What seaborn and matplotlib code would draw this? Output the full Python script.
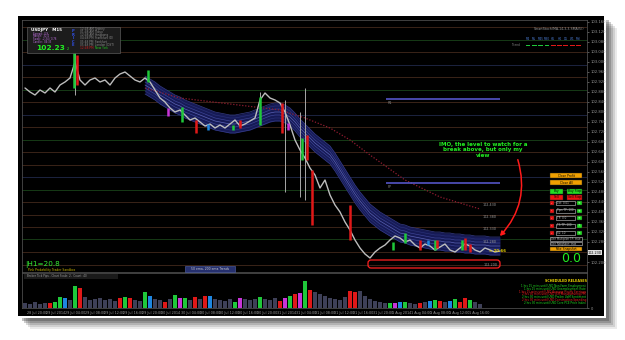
import numpy as np
import pandas as pd
import matplotlib
matplotlib.use("Agg")
import matplotlib.pyplot as plt
import seaborn as sns
from matplotlib.patches import Rectangle, FancyBboxPatch, FancyArrowPatch
from matplotlib.transforms import IdentityTransform
from matplotlib.ticker import FormatStrFormatter

# ---------------- data ----------------
symbol = "USDJPY"
timeframe = "M15"
current_price = 102.23

close_price = [
    102.896, 102.880, 102.868, 102.888, 102.876, 102.896, 102.880, 102.908, 102.920, 102.936,
    103.000, 102.928, 102.908, 102.928, 102.936, 102.920, 102.928, 102.908, 102.936, 102.952,
    102.960, 102.944, 102.928, 102.920, 102.936, 102.920, 102.888, 102.856, 102.840, 102.816,
    102.800, 102.808, 102.788, 102.768, 102.776, 102.760, 102.744, 102.752, 102.736, 102.748,
    102.736, 102.752, 102.768, 102.744, 102.752, 102.764, 102.776, 102.848, 102.876, 102.856,
    102.848, 102.836, 102.800, 102.748, 102.688, 102.648, 102.616, 102.576, 102.548, 102.496,
    102.528, 102.468, 102.428, 102.400, 102.360, 102.328, 102.288, 102.256, 102.232, 102.216,
    102.240, 102.256, 102.268, 102.288, 102.304, 102.296, 102.280, 102.288, 102.268, 102.256,
    102.272, 102.264, 102.248, 102.260, 102.272, 102.248, 102.240, 102.256, 102.272, 102.264,
    102.248, 102.240, 102.256, 102.248, 102.240, 102.244,
]

ribbon_start = 24
ribbon_center = [
    102.908, 102.896, 102.884, 102.868, 102.856, 102.844, 102.832, 102.824, 102.812, 102.804,
    102.796, 102.788, 102.780, 102.772, 102.764, 102.760, 102.756, 102.752, 102.752, 102.756,
    102.760, 102.764, 102.772, 102.780, 102.788, 102.796, 102.800, 102.800, 102.792, 102.780,
    102.760, 102.736, 102.716, 102.696, 102.676, 102.660, 102.644, 102.628, 102.600, 102.568,
    102.536, 102.504, 102.472, 102.444, 102.420, 102.396, 102.380, 102.364, 102.352, 102.340,
    102.328, 102.316, 102.312, 102.304, 102.300, 102.296, 102.292, 102.288, 102.284, 102.284,
    102.280, 102.280, 102.276, 102.276, 102.272, 102.272, 102.268, 102.268, 102.268, 102.264,
    102.264, 102.264,
]

ma200_idx = [24, 31, 41, 51, 56, 61, 65, 69, 76, 83, 91]
ma200_price = [102.896, 102.856, 102.832, 102.808, 102.776, 102.736, 102.688, 102.628,
               102.528, 102.460, 102.412]

wick_idx = [10, 47, 52, 55, 56]
wick_high = [103.048, 102.880, 102.848, 102.800, 102.896]
wick_low = [102.868, 102.760, 102.480, 102.460, 102.448]

candle_idx = [9.8, 10.4, 24.6, 28.6, 31.4, 34.2, 36.6, 41.6, 43.0, 47.0, 51.4, 52.6, 55.4,
              56.4, 57.4, 65.0, 73.6, 76.0, 79.0, 80.6, 82.0, 82.4, 87.4, 88.0, 89.0]
candle_open = [102.896, 103.028, 102.920, 102.816, 102.760, 102.768, 102.752, 102.728, 102.768,
               102.748, 102.836, 102.756, 102.608, 102.708, 102.568, 102.428, 102.248, 102.276,
               102.288, 102.268, 102.248, 102.288, 102.248, 102.296, 102.272]
candle_close = [103.040, 102.908, 102.968, 102.784, 102.820, 102.716, 102.728, 102.748, 102.736,
                102.860, 102.716, 102.728, 102.696, 102.608, 102.348, 102.288, 102.280, 102.316,
                102.248, 102.288, 102.288, 102.256, 102.288, 102.248, 102.240]
candle_kind = ["up", "down", "up", "magenta", "up", "down", "blue", "up", "down", "up", "down",
               "magenta", "up", "down", "down", "down", "up", "up", "down", "blue", "up", "down",
               "up", "down", "down"]

volume = [500, 400, 600, 400, 500, 500, 600, 1100, 1000, 800,
          2200, 2000, 1100, 800, 900, 1000, 800, 900, 700, 1000,
          1100, 1000, 800, 700, 1600, 1200, 900, 800, 600, 900,
          1300, 1000, 1000, 800, 1100, 900, 1200, 1200, 900, 800,
          700, 900, 600, 1000, 900, 800, 900, 1100, 900, 800,
          1000, 700, 1000, 1200, 1400, 1500, 2700, 1800, 1600, 1400,
          1200, 1000, 900, 800, 1100, 1700, 1600, 1700, 1200, 900,
          700, 600, 500, 500, 500, 600, 600, 500, 400, 500,
          600, 700, 800, 700, 600, 700, 900, 600, 1000, 800,
          600, 400]
volume_kind = ["neutral", "neutral", "neutral", "neutral", "neutral", "down", "up", "up", "blue", "neutral",
               "up", "down", "neutral", "neutral", "neutral", "neutral", "neutral", "neutral", "neutral", "down",
               "up", "down", "neutral", "neutral", "up", "blue", "neutral", "neutral", "down", "neutral",
               "up", "magenta", "up", "neutral", "down", "neutral", "down", "blue", "neutral", "neutral",
               "neutral", "neutral", "up", "magenta", "neutral", "neutral", "neutral", "up", "neutral", "neutral",
               "neutral", "down", "magenta", "up", "down", "magenta", "up", "down", "neutral", "neutral",
               "neutral", "neutral", "neutral", "neutral", "neutral", "down", "down", "neutral", "neutral", "neutral",
               "neutral", "neutral", "neutral", "up", "magenta", "blue", "up", "neutral", "neutral", "down",
               "neutral", "blue", "up", "down", "neutral", "blue", "up", "down", "down", "up",
               "neutral", "neutral"]

level_price = [102.19, 102.24, 102.29, 102.34, 102.39, 102.44, 102.49, 102.54, 102.59, 102.64,
               102.69, 102.74, 102.79, 102.84, 102.89, 102.94, 102.99, 103.04, 103.09, 103.14]
level_kind = ["brown", "brown", "green", "brown", "brown", "brown", "green", "blue", "brown", "brown",
              "green", "brown", "blue", "brown", "green", "brown", "blue", "brown", "green", "brown"]

pivot_price = [102.852, 102.516]
pivot_label = ["R1", "PP"]
round_level_price = [102.43, 102.38, 102.33, 102.28]
round_level_label = ["102.430", "102.380", "102.330", "102.280"]

xtick_labels = ["28 Jul 20:00", "29 Jul 2014", "29 Jul 04:00", "29 Jul 08:00", "29 Jul 12:00",
                "29 Jul 16:00", "29 Jul 20:00", "30 Jul 2014", "30 Jul 04:00", "30 Jul 08:00",
                "30 Jul 12:00", "30 Jul 16:00", "30 Jul 20:00", "31 Jul 2014", "31 Jul 04:00",
                "31 Jul 08:00", "31 Jul 12:00", "31 Jul 16:00", "31 Jul 20:00", "1 Aug 2014",
                "1 Aug 04:00", "1 Aug 08:00", "1 Aug 12:00", "1 Aug 16:00"]

session_time = ["12:48 AM", "01:48 AM", "12:48 AM", "04:48 PM", "05:48 PM", "05:48 PM", "12:48 PM"]
session_name = ["Sydney", "Tokyo", "Hongkong", "Frankfurt (D)", "Frankfurt", "London (DST)", "New York"]
info_rows = ["Spread:  0.9", "Range:  32.4", "Swap:  -2.34 / 0.76", "Candle:  04:33"]

tf_labels = ["M1", "M5", "M15", "M30", "H1", "H4", "D1", "W1", "MN"]
tf_trend = ["up", "up", "up", "up", "down", "down", "down", "down", "down"]

schedule_lines = ["1 hrs 15 mins until USD Non-Farm Employment",
                  "1 hrs 15 mins until USD Unemployment Rate",
                  "1 hrs 15 mins until USD Average Hourly Earnings",
                  "2 hrs 30 mins until USD ISM Manufacturing PMI",
                  "2 hrs 30 mins until USD Prelim UoM Sentiment",
                  "2 hrs 30 mins until USD Construction Spending",
                  "2 hrs 30 mins until USD Core PCE Price Index"]
schedule_kind = ["up", "up", "down", "down", "up", "down", "up"]

annotation = "IMO, the level to watch for a\nbreak above, but only my\nview"

# ---------------- style ----------------
sns.set_theme(style="dark")
plt.rcParams["font.family"] = ["DejaVu Sans"]

kind_color = {"up": "#1fc83a", "down": "#e01818", "blue": "#1e86e0", "magenta": "#c834d8",
              "neutral": "#3e4058"}
level_color = {"brown": "#3a2418", "green": "#163a16", "blue": "#1c2440"}

W, H = 625, 340
fig = plt.figure(figsize=(W / 100, H / 100), dpi=100, facecolor="white")
ID = IdentityTransform()


def prect(x0, y0, x1, y1, z=5, **kw):
    r = Rectangle((x0, H - y1), x1 - x0, y1 - y0, transform=ID, zorder=z, **kw)
    fig.add_artist(r)
    return r


def ptext(x, y, s, z=7, **kw):
    kw.setdefault("va", "center")
    return fig.text(x / W, 1 - y / H, s, zorder=z, **kw)


# frame with drop shadow
for off, a in [(12, 0.10), (10, 0.14), (8, 0.18), (6, 0.24), (4, 0.30)]:
    prect(18 + off, 16 + off, 605 + off, 317 + off, z=-20, facecolor="#333333", edgecolor="none", alpha=a)
prect(16, 14, 606, 318, z=-15, facecolor="white", edgecolor="none")
prect(18, 16, 604, 316, z=-12, facecolor="black", edgecolor="none")

# ---------------- price panel ----------------
XL = (-0.6, 112.4)
ax = fig.add_axes([22 / W, 1 - 272 / H, (587 - 22) / W, (272 - 20) / H])
ax.set_facecolor("black")
ax.set_xlim(*XL)
ax.set_ylim(102.16, 103.168)

ax.hlines(level_price, XL[0], XL[1], colors=[level_color[k] for k in level_kind], lw=0.7, zorder=0.5)

rx = np.arange(ribbon_start, ribbon_start + len(ribbon_center))
rc = np.array(ribbon_center)
ax.fill_between(rx, rc - 0.036, rc + 0.036, color="#181c5c", alpha=0.95, lw=0, zorder=1)
for off, col, lw in [(-0.036, "#353c88", 0.5), (-0.024, "#2a3278", 0.45), (-0.012, "#3f479a", 0.45),
                     (0.0, "#5a62b4", 0.5), (0.012, "#3f479a", 0.45), (0.024, "#2a3278", 0.45),
                     (0.036, "#353c88", 0.5)]:
    sns.lineplot(x=rx, y=rc + off, ax=ax, color=col, lw=lw, zorder=1.5)

sns.lineplot(x=ma200_idx, y=ma200_price, ax=ax, color="#901c30", lw=0.9, zorder=1.6)
ax.lines[-1].set_linestyle((0, (1, 1.4)))

ax.hlines(pivot_price, 72.2, 95.0, colors="#5c5cd8", lw=1.1, zorder=2)
for p, lab in zip(pivot_price, pivot_label):
    ax.text(72.5, p - 0.006, lab, color="#8a8a8a", fontsize=2.4, va="top", zorder=3)
for p, lab in zip(round_level_price, round_level_label):
    ax.text(91.6, p, lab, color="#9a9a9a", fontsize=2.4, va="center", zorder=3)

ax.vlines(wick_idx, wick_low, wick_high, colors="#a8a8a8", lw=0.7, zorder=2.5)
sns.lineplot(x=np.arange(len(close_price)), y=close_price, ax=ax, color="#bdbdbd", lw=1.0, zorder=3)
ax.vlines(candle_idx, candle_open, candle_close, colors=[kind_color[k] for k in candle_kind],
          lw=1.8, zorder=3.5)

ax.yaxis.tick_right()
price_ticks = [t for t in np.arange(102.20, 103.161, 0.04) if abs(t - current_price) > 0.015]
ax.set_yticks(price_ticks)
ax.yaxis.set_major_formatter(FormatStrFormatter("%.3f"))
ax.tick_params(axis="y", colors="#9a9a9a", labelsize=2.7, length=1.5, width=0.4, pad=1.2)
ax.tick_params(axis="x", bottom=False, labelbottom=False)
ax.set_xlabel("")
ax.set_ylabel("")
ax.grid(False)
for s in ax.spines.values():
    s.set_color("#5a5a5a")
    s.set_linewidth(0.5)

# ---------------- volume panel ----------------
axv = fig.add_axes([22 / W, 1 - 308 / H, (587 - 22) / W, (308 - 273) / H])
axv.set_facecolor("black")
vdf = pd.DataFrame({"idx": np.arange(len(volume)), "vol": volume, "kind": volume_kind})
sns.barplot(data=vdf, x="idx", y="vol", hue="kind", palette=kind_color, native_scale=True,
            dodge=False, width=0.8, errorbar=None, legend=False, saturation=1, linewidth=0, ax=axv)
axv.set_xlim(*XL)
axv.set_ylim(0, 3500)
axv.set_xlabel("")
axv.set_ylabel("")
axv.grid(False)
xtick_pos = np.linspace(0.4, 0.4 + 3.84 * 23, len(xtick_labels))
axv.set_xticks(xtick_pos)
axv.set_xticklabels(xtick_labels, fontsize=2.4, color="#9a9a9a", ha="left")
axv.tick_params(axis="x", colors="#9a9a9a", length=1.5, width=0.4, pad=1)
axv.yaxis.tick_right()
axv.set_yticks([0])
axv.set_yticklabels(["0"])
axv.tick_params(axis="y", colors="#9a9a9a", labelsize=2.6, length=1.5, width=0.4, pad=1.2)
for s in axv.spines.values():
    s.set_color("#5a5a5a")
    s.set_linewidth(0.5)

# ---------------- overlays ----------------
# info panel top-left
prect(27, 27, 120, 53, facecolor="#1c1c1c", edgecolor="#5a5a5a", lw=0.5)
ptext(31, 30.2, f"{symbol}   {timeframe}", color="white", fontsize=3.0, fontweight="bold")
for k, row in enumerate(info_rows):
    ptext(33, 33.6 + 2.75 * k, row, color="#c070e0", fontsize=1.8)
ptext(36, 48.3, f"{current_price:.2f}", color="#22ee22", fontsize=5.4, fontweight="bold")
ptext(67, 49, "2", color="#22ee22", fontsize=2.4)
for k, ch in enumerate("PRICE"):
    ptext(73, 31 + 3.6 * k, ch, color="#3050e8", fontsize=2.6, ha="center", fontweight="bold")
for k, (t, n) in enumerate(zip(session_time, session_name)):
    last = k == len(session_time) - 1
    ptext(80, 28.8 + 3.2 * k, t, color="#d02020" if last else "#8a8a8a", fontsize=2.1)
    ptext(95, 28.8 + 3.2 * k, n, color="#22cc22" if last else "#8a8a8a", fontsize=2.1)

# timeframe trend panel top-right
ptext(584, 29, "SmartStoch(MA,14,3,3,SMA(5))", color="#9a9a9a", fontsize=2.3, ha="right")
ptext(520, 45.5, "Trend", color="#8a8a8a", fontsize=2.1, ha="right")
for k, (lab, tr) in enumerate(zip(tf_labels, tf_trend)):
    cx = 528 + 6.3 * k
    ptext(cx, 39.5, lab, color="#4a7ad0", fontsize=2.1, ha="center")
    prect(cx - 2.4, 44.6, cx + 2.4, 46.2, facecolor=kind_color[tr], edgecolor="none")

# annotation and arrow
ptext(483, 150, annotation, color="#22ee22", fontsize=4.0, ha="center", linespacing=1.15,
      fontweight="semibold")
fig.add_artist(FancyArrowPatch((517, H - 157), (498, H - 238), connectionstyle="arc3,rad=-0.3",
                               arrowstyle="-|>,head_length=2.5,head_width=1.4", color="#ff1a1a",
                               lw=1.1, transform=ID, zorder=6))
fig.add_artist(FancyBboxPatch((368, H - 268), 132, 8, boxstyle="round,pad=0,rounding_size=3",
                              transform=ID, fill=False, edgecolor="#ff2020", lw=0.9, zorder=6))
ptext(484, 264.5, "102.200", color="#9a9a9a", fontsize=2.4)
ptext(489, 251, "= 20.66", color="#e8d000", fontsize=2.8, fontweight="bold")

# current price tag on axis
prect(588, 250, 602, 255, facecolor="#e0e0e0", edgecolor="none", z=6)
ptext(595, 252.5, f"{current_price:.3f}", color="black", fontsize=2.4, ha="center")

# trade buttons
def button(x0, y0, x1, y1, label, fc, tc="black"):
    prect(x0, y0, x1, y1, facecolor=fc, edgecolor="#222222", lw=0.3)
    ptext((x0 + x1) / 2, (y0 + y1) / 2, label, color=tc, fontsize=2.2, ha="center")


button(550, 173, 582, 178, "Close Profit", "#f0a000")
button(550, 180, 582, 185, "Close All", "#f0a000")
button(550, 189, 563, 193.5, "Buy", "#22dd22")
button(567, 189, 582, 193.5, "Buy Stop", "#22dd22")
button(550, 195, 563, 199.5, "Sell", "#ee1111")
button(567, 195, 582, 199.5, "Sell Stop", "#ee1111")
for k, lab in enumerate(["Lot: 0.01", "Pips TP: 100", "TP: 0.0", "TS TP: 100", "SL: 10"]):
    yc = 203 + 7.5 * k
    button(550, yc - 2, 553.5, yc + 2, "-", "#ee1111", "white")
    prect(556, yc - 2, 575, yc + 2, facecolor="black", edgecolor="#cccccc", lw=0.4)
    ptext(557, yc, lab, color="#bbbbbb", fontsize=2.0)
    button(577, yc - 2, 581.5, yc + 2, "+", "#22dd22", "white")
for k, lab in enumerate(["Use Multiplier TP: true", "Use Neighbor: true"]):
    yc = 239 + 4.5 * k
    prect(550, yc - 1.8, 582, yc + 1.8, facecolor="black", edgecolor="#cccccc", lw=0.4)
    ptext(551, yc, lab, color="#bbbbbb", fontsize=1.9)
button(550, 246.5, 582, 251, "Take Snapshot", "#f0a000")
ptext(571, 259, "0.0", color="#22ee22", fontsize=9, ha="center")

# lower-left indicator texts
ptext(25, 264.5, "|H1=20.8", color="#33ee33", fontsize=5.2)
ptext(28, 269.5, "Pink Probability Trader Sandbox", color="#c8b400", fontsize=2.2)
prect(185, 266, 235, 271.5, facecolor="#26306e", edgecolor="#5566aa", lw=0.4)
ptext(210, 268.8, "50 ema, 200 ema Trends", color="#cccccc", fontsize=2.2, ha="center")
prect(24, 274, 118, 279, facecolor="#1a1a1a", edgecolor="none")
ptext(27, 276.5, "Broker Tick Pips - Chart Scale: 2,  Count: 40", color="#9a9a9a", fontsize=2.0)

# scheduled releases
ptext(566, 281.5, "SCHEDULED RELEASES", color="#e8d000", fontsize=2.4, ha="center", fontweight="bold")
for k, (line, kd) in enumerate(zip(schedule_lines, schedule_kind)):
    ptext(586, 286 + 2.8 * k, line, color="#22dd22" if kd == "up" else "#ee2020", fontsize=2.0,
          ha="right")

fig.savefig("out.png", dpi=100, facecolor="white")
